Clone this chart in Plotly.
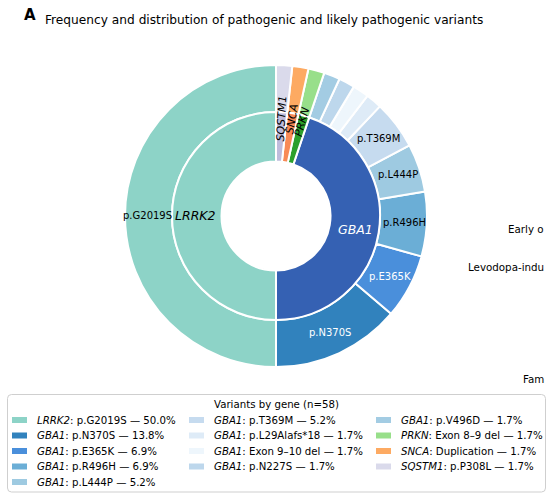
import math
import plotly.graph_objects as go

W, H = 547, 500

# ---- data ----
genes = ["LRRK2", "GBA1", "PRKN", "SNCA", "SQSTM1"]
gene_counts = [29, 26, 1, 1, 1]
gene_colors = ["#8dd3c7", "#3561b3", "#2ca02c", "#f88a56", "#bebcdc"]

variant_gene = ["LRRK2", "GBA1", "GBA1", "GBA1", "GBA1", "GBA1", "GBA1", "GBA1",
                "GBA1", "GBA1", "PRKN", "SNCA", "SQSTM1"]
variant_names = ["p.G2019S", "p.N370S", "p.E365K", "p.R496H", "p.L444P", "p.T369M",
                 "p.L29Alafs*18", "Exon 9\u201310 del", "p.N227S", "p.V496D",
                 "Exon 8\u20139 del", "Duplication", "p.P308L"]
variant_counts = [29, 8, 4, 4, 3, 3, 1, 1, 1, 1, 1, 1, 1]
variant_colors = ["#8dd3c7", "#3182bd", "#4a8fdb", "#6baed6", "#9ecae1", "#c6dbef",
                  "#deebf7", "#eef6fc", "#bdd7ec", "#a3cce3", "#98df8a", "#fdaa62",
                  "#dadaeb"]
variant_label_min = 3          # only label outer slices with at least this many carriers
white_text_variants = ["p.N370S", "p.E365K"]
white_text_genes = ["GBA1"]
legend_title = "Variants by gene (n=58)"
side_texts = ["Early o", "Levodopa-indu", "Fam"]   # clipped labels of the neighbouring panel

total = sum(variant_counts)
legend_columns = [[0, 1, 2, 3, 4], [5, 6, 7, 8], [9, 10, 11, 12]]

# ---- geometry (px) ----
cx, cy = 276, 216
r_outer, r_mid, r_hole = 151, 104, 54.5


def px(x):
    return x / W


def py(y):
    return 1 - y / H


def dom(r):
    return dict(x=[px(cx - r), px(cx + r)], y=[py(cy + r), py(cy - r)])


def mids(counts):
    out, cum = [], 0
    t = sum(counts)
    for c in counts:
        out.append((cum + c / 2) / t)
        cum += c
    return out


def pos(frac, r):
    a = 2 * math.pi * frac  # counterclockwise from 12 o'clock
    return px(cx - r * math.sin(a)), py(cy - r * math.cos(a))


fig = go.Figure()

fig.add_trace(go.Pie(
    labels=[f"{g}: {n}" for g, n in zip(variant_gene, variant_names)],
    values=variant_counts, sort=False, direction="counterclockwise", rotation=180,
    hole=r_mid / r_outer, domain=dom(r_outer),
    marker=dict(colors=variant_colors, line=dict(color="white", width=2)),
    textinfo="none", showlegend=False, hoverinfo="label+value",
))

fig.add_trace(go.Pie(
    labels=genes, values=gene_counts, sort=False, direction="counterclockwise", rotation=180,
    hole=r_hole / r_mid, domain=dom(r_mid),
    marker=dict(colors=gene_colors, line=dict(color="white", width=2)),
    textinfo="none", showlegend=False, hoverinfo="label+value",
))

annotations = [
    dict(text="<b>A</b>", x=px(22), y=py(15), xanchor="left", yanchor="middle",
         font=dict(size=15)),
    dict(text="Frequency and distribution of pathogenic and likely pathogenic variants",
         x=px(264), y=py(20), xanchor="center", yanchor="middle",
         font=dict(size=12.2)),
]

# slice labels, placed from the slice mid-angles
for f, n, c in zip(mids(variant_counts), variant_names, variant_counts):
    if c >= variant_label_min:
        x, y = pos(f, 128.5)
        annotations.append(dict(text=n, x=x, y=y, xanchor="center", yanchor="middle",
                                font=dict(size=10, color="white" if n in white_text_variants else "black")))
for f, g, c in zip(mids(gene_counts), genes, gene_counts):
    col = "white" if g in white_text_genes else "black"
    if c > 5:
        x, y = pos(f, 81)
        annotations.append(dict(text=f"<i>{g}</i>", x=x, y=y, xanchor="center",
                                yanchor="middle", font=dict(size=12.5, color=col)))
    else:
        x, y = pos(f, 98)
        annotations.append(dict(text=f"<i>{g}</i>", x=x, y=y, xanchor="center",
                                yanchor="middle", textangle=270 - 360 * f,
                                font=dict(size=11, color=col)))

for t, yy in zip(side_texts, [229, 267, 379]):
    annotations.append(dict(text=t, x=px(546), y=py(yy), xanchor="right",
                            yanchor="middle", font=dict(size=10.3)))

# ---- legend box (matplotlib-style, 3 columns) ----
shapes = []
bx0, bx1, by0, by1, rr = 7.5, 545.5, 394.5, 492, 4
path = (f"M{px(bx0 + rr)},{py(by0)} L{px(bx1 - rr)},{py(by0)} "
        f"Q{px(bx1)},{py(by0)} {px(bx1)},{py(by0 + rr)} L{px(bx1)},{py(by1 - rr)} "
        f"Q{px(bx1)},{py(by1)} {px(bx1 - rr)},{py(by1)} L{px(bx0 + rr)},{py(by1)} "
        f"Q{px(bx0)},{py(by1)} {px(bx0)},{py(by1 - rr)} L{px(bx0)},{py(by0 + rr)} "
        f"Q{px(bx0)},{py(by0)} {px(bx0 + rr)},{py(by0)} Z")
shapes.append(dict(type="path", path=path, xref="paper", yref="paper",
                   line=dict(color="#cfcfcf", width=1), fillcolor="white", layer="below"))
annotations.append(dict(text=legend_title, x=px(277), y=py(404), xanchor="center",
                        yanchor="middle", font=dict(size=10.2)))
col_patch_x = [12, 189, 376]
row_y0, row_dy = 420, 15.5
for ci, col in enumerate(legend_columns):
    for ri, i in enumerate(col):
        yy = row_y0 + ri * row_dy
        x0 = col_patch_x[ci]
        shapes.append(dict(type="rect", xref="paper", yref="paper",
                           x0=px(x0), x1=px(x0 + 15), y0=py(yy - 3), y1=py(yy + 3),
                           fillcolor=variant_colors[i], line=dict(width=0)))
        pct = 100 * variant_counts[i] / total
        annotations.append(dict(
            text=f"<i>{variant_gene[i]}</i>: {variant_names[i]} \u2014 {pct:.1f}%",
            x=px(x0 + 23), y=py(yy), xanchor="left", yanchor="middle",
            font=dict(size=10.2)))

for a in annotations:
    a.update(xref="paper", yref="paper", showarrow=False)
    a["font"].setdefault("family", "DejaVu Sans")
    a["font"].setdefault("color", "black")

fig.update_layout(
    width=W, height=H, margin=dict(l=0, r=0, t=0, b=0, autoexpand=False),
    paper_bgcolor="white", plot_bgcolor="white",
    font=dict(family="DejaVu Sans", color="black"),
    showlegend=False,
    annotations=annotations, shapes=shapes,
)

fig.write_html("out.html")
